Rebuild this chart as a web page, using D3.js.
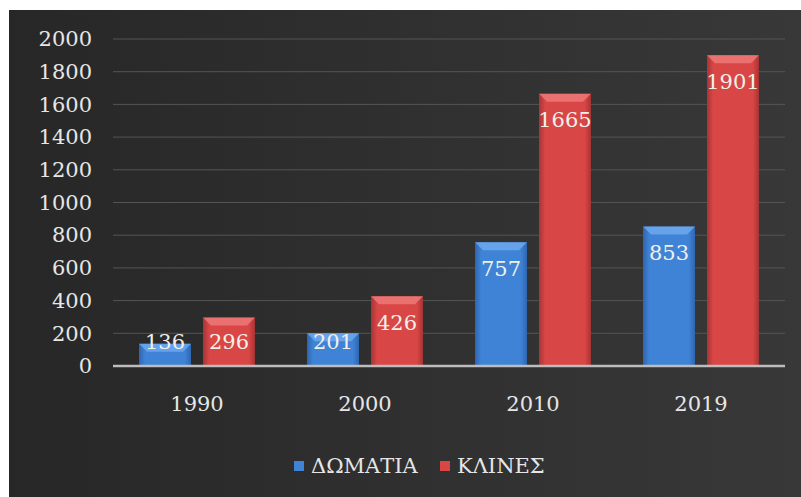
<!DOCTYPE html>
<html>
<head>
<meta charset="utf-8">
<script src="https://cdn.jsdelivr.net/npm/d3@7"></script>
<style>
  body { margin: 0; background: #fff; }
  svg { display: block; }
  text { font-family: "DejaVu Serif", "Liberation Serif", serif; }
</style>
</head>
<body>
<svg id="chart"></svg>
<script>
'use strict';

var years = ['1990', '2000', '2010', '2019']
var rooms = [136, 201, 757, 853]   // ΔΩΜΑΤΙΑ
var beds = [296, 426, 1665, 1901]  // ΚΛΙΝΕΣ
var yTicks = [0, 200, 400, 600, 800, 1000, 1200, 1400, 1600, 1800, 2000]
var seriesNames = ['ΔΩΜΑΤΙΑ', 'ΚΛΙΝΕΣ']

var width = 801, height = 497
var svg = d3.select('#chart').attr('width', width).attr('height', height)
var defs = svg.append('defs')

// background panel, a bit darker on the left
var bg = defs.append('linearGradient').attr('id', 'bg').attr('x1', 0).attr('x2', 1)
bg.append('stop').attr('offset', 0).attr('stop-color', '#272727')
bg.append('stop').attr('offset', 1).attr('stop-color', '#383838')

function barGrad(id, dark, mid) {
	var g = defs.append('linearGradient').attr('id', id).attr('x1', 0).attr('x2', 1)
	g.append('stop').attr('offset', 0).attr('stop-color', dark)
	g.append('stop').attr('offset', 0.12).attr('stop-color', mid)
	g.append('stop').attr('offset', 0.88).attr('stop-color', mid)
	g.append('stop').attr('offset', 1).attr('stop-color', dark)
}
barGrad('gBlue', '#2f66b0', '#3f83d6')
barGrad('gRed', '#a83434', '#d94646')

svg.append('rect').attr('x', 9).attr('y', 10).attr('width', width - 9).attr('height', height - 10)
	.attr('fill', 'url(#bg)')

var margin = {left: 113, right: 16, top: 39, bottom: 131}
var x0 = d3.scaleBand().domain(years).range([margin.left, width - margin.right]).paddingInner(0.31).paddingOuter(0.155)
var x1 = d3.scaleBand().domain(seriesNames).range([0, x0.bandwidth()]).paddingInner(0.1875)
var y = d3.scaleLinear().domain([0, 2000]).range([height - margin.bottom, margin.top])

// grid
svg.append('g').selectAll('line').data(yTicks.slice(1)).enter().append('line')
	.attr('x1', margin.left).attr('x2', width - margin.right)
	.attr('y1', function(d) { return y(d) }).attr('y2', function(d) { return y(d) })
	.attr('stroke', '#545454').attr('stroke-width', 1)

// y axis labels
var yAxis = d3.axisLeft(y).tickValues(yTicks).tickFormat(d3.format('d')).tickSize(0).tickPadding(0)
var ya = svg.append('g').attr('transform', 'translate(92,0)').call(yAxis)
ya.select('.domain').remove()
ya.selectAll('text').attr('fill', '#e6e6e6').style('font-size', '21px').style('font-family', '"DejaVu Serif", serif')

// x axis labels
var xAxis = d3.axisBottom(x0).tickSize(0).tickPadding(0)
var xa = svg.append('g').attr('transform', 'translate(0,' + 396 + ')').call(xAxis)
xa.select('.domain').remove()
xa.selectAll('text').attr('fill', '#e6e6e6').style('font-size', '21px').style('font-family', '"DejaVu Serif", serif')

var data = years.map(function(yr, i) {
	return {year: yr, vals: [{s: seriesNames[0], v: rooms[i]}, {s: seriesNames[1], v: beds[i]}]}
})
var fills = {'ΔΩΜΑΤΙΑ': 'url(#gBlue)', 'ΚΛΙΝΕΣ': 'url(#gRed)'}
var tops = {'ΔΩΜΑΤΙΑ': '#74aef0', 'ΚΛΙΝΕΣ': '#f08080'}

var groups = svg.append('g').selectAll('g').data(data).enter().append('g')
	.attr('transform', function(d) { return 'translate(' + x0(d.year) + ',0)' })

var bars = groups.selectAll('g').data(function(d) { return d.vals }).enter().append('g')

bars.append('rect')
	.attr('x', function(d) { return x1(d.s) })
	.attr('y', function(d) { return y(d.v) })
	.attr('width', x1.bandwidth())
	.attr('height', function(d) { return y(0) - y(d.v) })
	.attr('fill', function(d) { return fills[d.s] })

// bevel on top edge
bars.append('path')
	.attr('d', function(d) {
		var xl = x1(d.s), xr = xl + x1.bandwidth(), t = y(d.v), b = 8
		return 'M' + xl + ',' + t + 'L' + xr + ',' + t + 'L' + (xr - b) + ',' + (t + b) + 'L' + (xl + b) + ',' + (t + b) + 'Z'
	})
	.attr('fill', function(d) { return tops[d.s] }).attr('opacity', 0.75)

bars.append('text')
	.attr('x', function(d) { return x1(d.s) + x1.bandwidth() / 2 })
	.attr('y', function(d) { return Math.min(y(d.v) + 26, y(0) - 24) })
	.attr('dy', '0.35em')
	.attr('text-anchor', 'middle')
	.attr('fill', '#f0f0e8')
	.style('font-size', '21px')
	.text(function(d) { return d.v })

// baseline
svg.append('line').attr('x1', margin.left).attr('x2', width - margin.right)
	.attr('y1', y(0)).attr('y2', y(0)).attr('stroke', '#bdbdbd').attr('stroke-width', 2.5)

// legend
var legend = svg.append('g').attr('transform', 'translate(0,466)')
var legX = [294, 440]
seriesNames.forEach(function(name, i) {
	legend.append('rect').attr('x', legX[i]).attr('y', -5).attr('width', 10).attr('height', 10)
		.attr('fill', i == 0 ? '#3f83d6' : '#d94646')
	legend.append('text').attr('x', legX[i] + 17).attr('y', 0).attr('dy', '0.35em')
		.attr('fill', '#e6e6e6').style('font-size', '21px').text(name)
})
</script>
</body>
</html>
